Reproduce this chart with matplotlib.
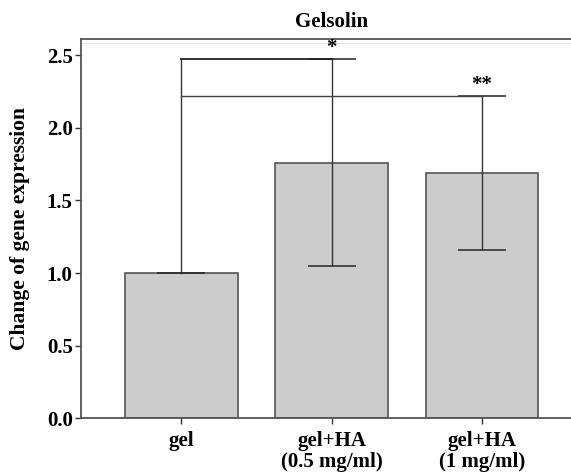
import numpy as np
import matplotlib.pyplot as plt

plt.rcParams['font.family'] = ['Liberation Serif', 'DejaVu Serif']
plt.rcParams['font.weight'] = 'bold'

# data
groups = ['gel', 'gel+HA\n(0.5 mg/ml)', 'gel+HA\n(1 mg/ml)']
means = [1.00, 1.76, 1.69]
errs = [0.0, 0.715, 0.53]
yticks = [0.0, 0.5, 1.0, 1.5, 2.0, 2.5]

fig = plt.figure(figsize=(5.71, 4.74), dpi=100, facecolor='white')
ax = fig.add_axes([0.1419, 0.118, 0.878, 0.7987])

x = np.arange(len(groups))
ax.bar(x, means, width=0.75, color='#cccccc', edgecolor='#555555', linewidth=1.2, zorder=2)
ax.errorbar(x, means, yerr=errs, fmt='none', ecolor='#333333', elinewidth=1.0,
            capsize=17, capthick=1.2, zorder=3)

# significance brackets
top1 = means[1] + errs[1]
top2 = means[2] + errs[2]
ax.plot([x[0], x[0]], [means[0], top1], color='#333333', lw=1.0, zorder=3)
ax.plot([x[0], x[1]], [top1, top1], color='#222222', lw=1.3, zorder=3)
ax.plot([x[0], x[2]], [top2, top2], color='#444444', lw=1.0, zorder=3)
ax.text(x[1], top1 + 0.005, '*', ha='center', va='bottom', fontsize=15, fontweight='bold')
ax.text(x[2], top2 + 0.005, '**', ha='center', va='bottom', fontsize=15, fontweight='bold')

# faint grid line near top
ax.axhline(2.585, color='#e6e6e6', lw=0.8, zorder=1)

ax.set_xlim(-0.667, 2.667)
ax.set_ylim(0, 2.61)
ax.set_yticks(yticks)
ax.set_yticklabels([f'{v:.1f}' for v in yticks])
ax.set_xticks(x)
ax.set_xticklabels(groups, linespacing=1.1)
ax.tick_params(axis='both', labelsize=15, colors='#333333', labelcolor='black',
               direction='out', length=4, width=1.0, pad=2)
ax.tick_params(axis='x', pad=5)
for lab in ax.get_xticklabels() + ax.get_yticklabels():
    lab.set_fontweight('bold')

for s in ax.spines.values():
    s.set_color('#555555')
    s.set_linewidth(1.3)

ax.set_ylabel('Change of gene expression', fontsize=15.5, fontweight='bold', labelpad=12)
ax.set_title('Gelsolin', fontsize=15, fontweight='bold', pad=9)

fig.savefig('out.png', dpi=100, facecolor='white')
